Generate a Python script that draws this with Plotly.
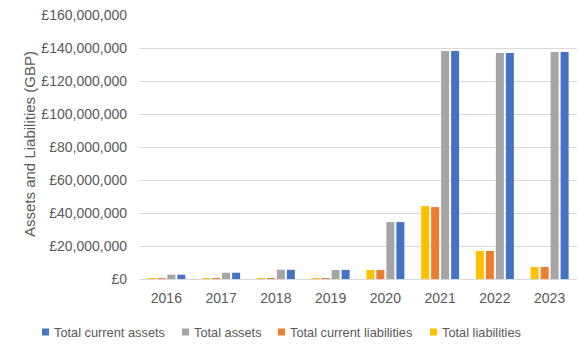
import plotly.graph_objects as go

years = ["2016", "2017", "2018", "2019", "2020", "2021", "2022", "2023"]
total_liabilities = [600000, 600000, 600000, 600000, 5500000, 44200000, 17000000, 7300000]
total_current_liabilities = [600000, 600000, 600000, 600000, 5500000, 43600000, 17000000, 7300000]
total_assets = [2600000, 3800000, 5600000, 5500000, 34500000, 138200000, 137000000, 137600000]
total_current_assets = [2600000, 3800000, 5600000, 5500000, 34500000, 138200000, 137000000, 137600000]

series = [
    ("Total liabilities", total_liabilities, "#FFC000"),
    ("Total current liabilities", total_current_liabilities, "#ED7D31"),
    ("Total assets", total_assets, "#A5A5A5"),
    ("Total current assets", total_current_assets, "#4472C4"),
]

W, H = 584, 347
L, R, T, B = 139, 7, 15, 68
PW, PH = W - L - R, H - T - B

font_family = "Liberation Sans, Arial, sans-serif"
text_color = "#595959"


def px_x(px):
    return (px - L) / PW


def px_y(py):
    return (H - B - py) / PH


fig = go.Figure()
for name, vals, color in series:
    fig.add_trace(go.Bar(x=years, y=vals, name=name, marker_color=color,
                         marker_line_width=0, showlegend=False))

# Legend row drawn as swatches + labels, in the order shown under the chart
legend_order = list(reversed(series))
swatch_left = [42, 182, 278, 430]
legend_y = 332
shapes, annotations = [], []
for (name, _, color), sx in zip(legend_order, swatch_left):
    shapes.append(dict(type="rect", xref="paper", yref="paper",
                       x0=px_x(sx), x1=px_x(sx + 7),
                       y0=px_y(legend_y + 3.5), y1=px_y(legend_y - 3.5),
                       fillcolor=color, line_width=0))
    annotations.append(dict(text=name, xref="paper", yref="paper",
                            x=px_x(sx + 10), y=px_y(legend_y),
                            xanchor="left", yanchor="middle", showarrow=False,
                            font=dict(family=font_family, size=12.8,
                                      color=text_color)))

# Vertical y-axis title
annotations.append(dict(text="Assets and Liabilities (GBP)", textangle=-90,
                        xref="paper", yref="paper",
                        x=px_x(29), y=px_y(144),
                        xanchor="center", yanchor="middle", showarrow=False,
                        font=dict(family=font_family, size=15,
                                  color=text_color)))

fig.update_layout(
    width=W, height=H,
    margin=dict(l=L, r=R, t=T, b=B),
    paper_bgcolor="white", plot_bgcolor="white",
    barmode="group", bargap=0.27, bargroupgap=0.2,
    font=dict(family=font_family, size=14, color=text_color),
    showlegend=False,
    shapes=shapes, annotations=annotations,
)
fig.update_xaxes(showgrid=False, showline=False, ticks="",
                 ticklabelstandoff=9,
                 tickfont=dict(size=14, color=text_color))
fig.update_yaxes(range=[0, 160000000], dtick=20000000,
                 tickprefix="£", tickformat=",d",
                 showgrid=True, gridcolor="#D9D9D9", gridwidth=1,
                 zeroline=True, zerolinecolor="#D9D9D9", zerolinewidth=1,
                 showline=False, ticks="", ticklabelstandoff=11,
                 tickfont=dict(size=14, color=text_color))

fig.write_html("out.html")
